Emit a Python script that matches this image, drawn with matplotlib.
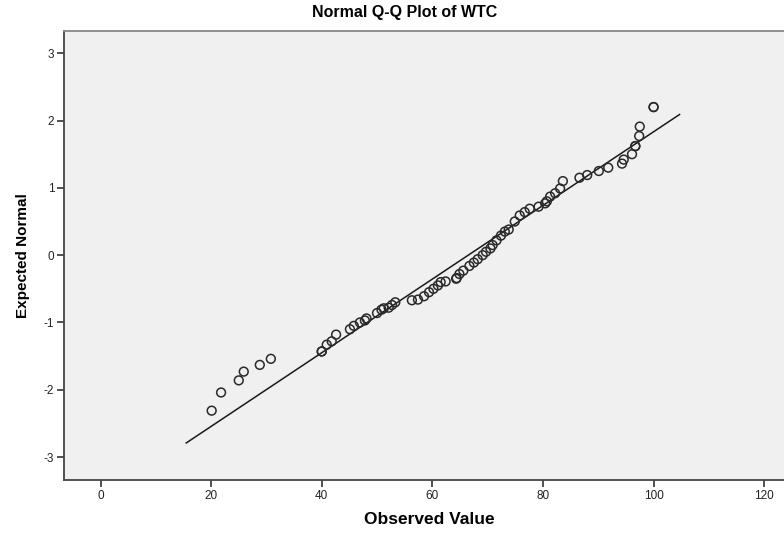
import matplotlib
matplotlib.use("Agg")
import matplotlib.pyplot as plt
import numpy as np

observed = [20.1, 21.8, 25.0, 25.9, 28.8, 30.8,
            40.0, 40.0, 40.9, 41.8, 42.6, 45.1, 45.8, 46.9, 47.8, 48.1,
            50.0, 50.8, 51.2, 52.1, 52.7, 53.3,
            56.3, 57.4, 58.5, 59.4, 60.2, 61.0, 61.5, 62.4,
            64.3, 64.4, 64.9, 65.6, 66.7, 67.5, 68.2, 69.1, 69.7, 70.5,
            70.9, 71.6, 72.4, 73.1, 73.8, 74.9, 75.8, 76.7, 77.6, 79.2,
            80.4, 80.7, 81.3, 82.2, 83.1, 83.6,
            86.6, 88.0, 90.1, 91.8, 94.3, 94.6, 96.1, 96.7, 96.7,
            97.4, 97.5, 100.0, 100.0]
expected = [-2.31, -2.04, -1.86, -1.73, -1.63, -1.54,
            -1.43, -1.43, -1.33, -1.28, -1.18, -1.10, -1.05, -1.00, -0.97, -0.94,
            -0.86, -0.81, -0.79, -0.78, -0.74, -0.70,
            -0.67, -0.66, -0.61, -0.55, -0.50, -0.45, -0.40, -0.39,
            -0.35, -0.34, -0.28, -0.23, -0.16, -0.11, -0.06, 0.00, 0.05, 0.10,
            0.15, 0.22, 0.29, 0.35, 0.38, 0.50, 0.59, 0.64, 0.69, 0.72,
            0.77, 0.80, 0.87, 0.92, 0.99, 1.10,
            1.15, 1.19, 1.25, 1.30, 1.36, 1.42, 1.50, 1.62, 1.62,
            1.77, 1.91, 2.20, 2.20]

line_x = [15.5, 104.7]
line_y = [-2.79, 2.09]

x_ticks = [0, 20, 40, 60, 80, 100, 120]
y_ticks = [-3, -2, -1, 0, 1, 2, 3]

plt.rcParams['font.family'] = ['Liberation Sans Narrow', 'Liberation Sans', 'DejaVu Sans']

fig = plt.figure(figsize=(7.84, 5.34), dpi=100)
ax = fig.add_axes([64/784, 1 - 480/534, 1 - 64/784 + 0.01, (480 - 31)/534])
ax.set_facecolor('#F0F0F0')

ax.plot(line_x, line_y, color='#1a1a1a', linewidth=1.1, zorder=2)
ax.scatter(observed, expected, s=40, facecolors='none', edgecolors='#2a2a2a',
           linewidths=1.1, zorder=3)

ax.set_xlim(-6.6, 125)
ax.set_ylim(-3.34, 3.33)
ax.set_xticks(x_ticks)
ax.set_yticks(y_ticks)
ax.set_xticklabels([str(v) for v in x_ticks])
ax.set_yticklabels([str(v) for v in y_ticks])

ax.tick_params(axis='both', direction='out', length=5, width=1.2,
               colors='#333333', labelsize=8.5, labelcolor='#222222', pad=2)
for s in ['left', 'bottom']:
    ax.spines[s].set_color('#444444')
    ax.spines[s].set_linewidth(1.3)
ax.spines['top'].set_color('#888888')
ax.spines['top'].set_linewidth(1.3)
ax.spines['right'].set_visible(False)

fig.text(405/784, 1 - 12/534, 'Normal Q-Q Plot of WTC', fontsize=11.5,
         fontweight='bold', family=['Liberation Sans', 'DejaVu Sans'],
         ha='center', va='center')
fig.text(429/784, 1 - 520/534, 'Observed Value', fontsize=12.5,
         fontweight='bold', family=['Liberation Sans', 'DejaVu Sans'],
         ha='center', va='center')
ax.set_ylabel('Expected Normal', fontsize=11, fontweight='bold',
              family=['Liberation Sans', 'DejaVu Sans'], labelpad=10)

fig.savefig('out.png', dpi=100)
